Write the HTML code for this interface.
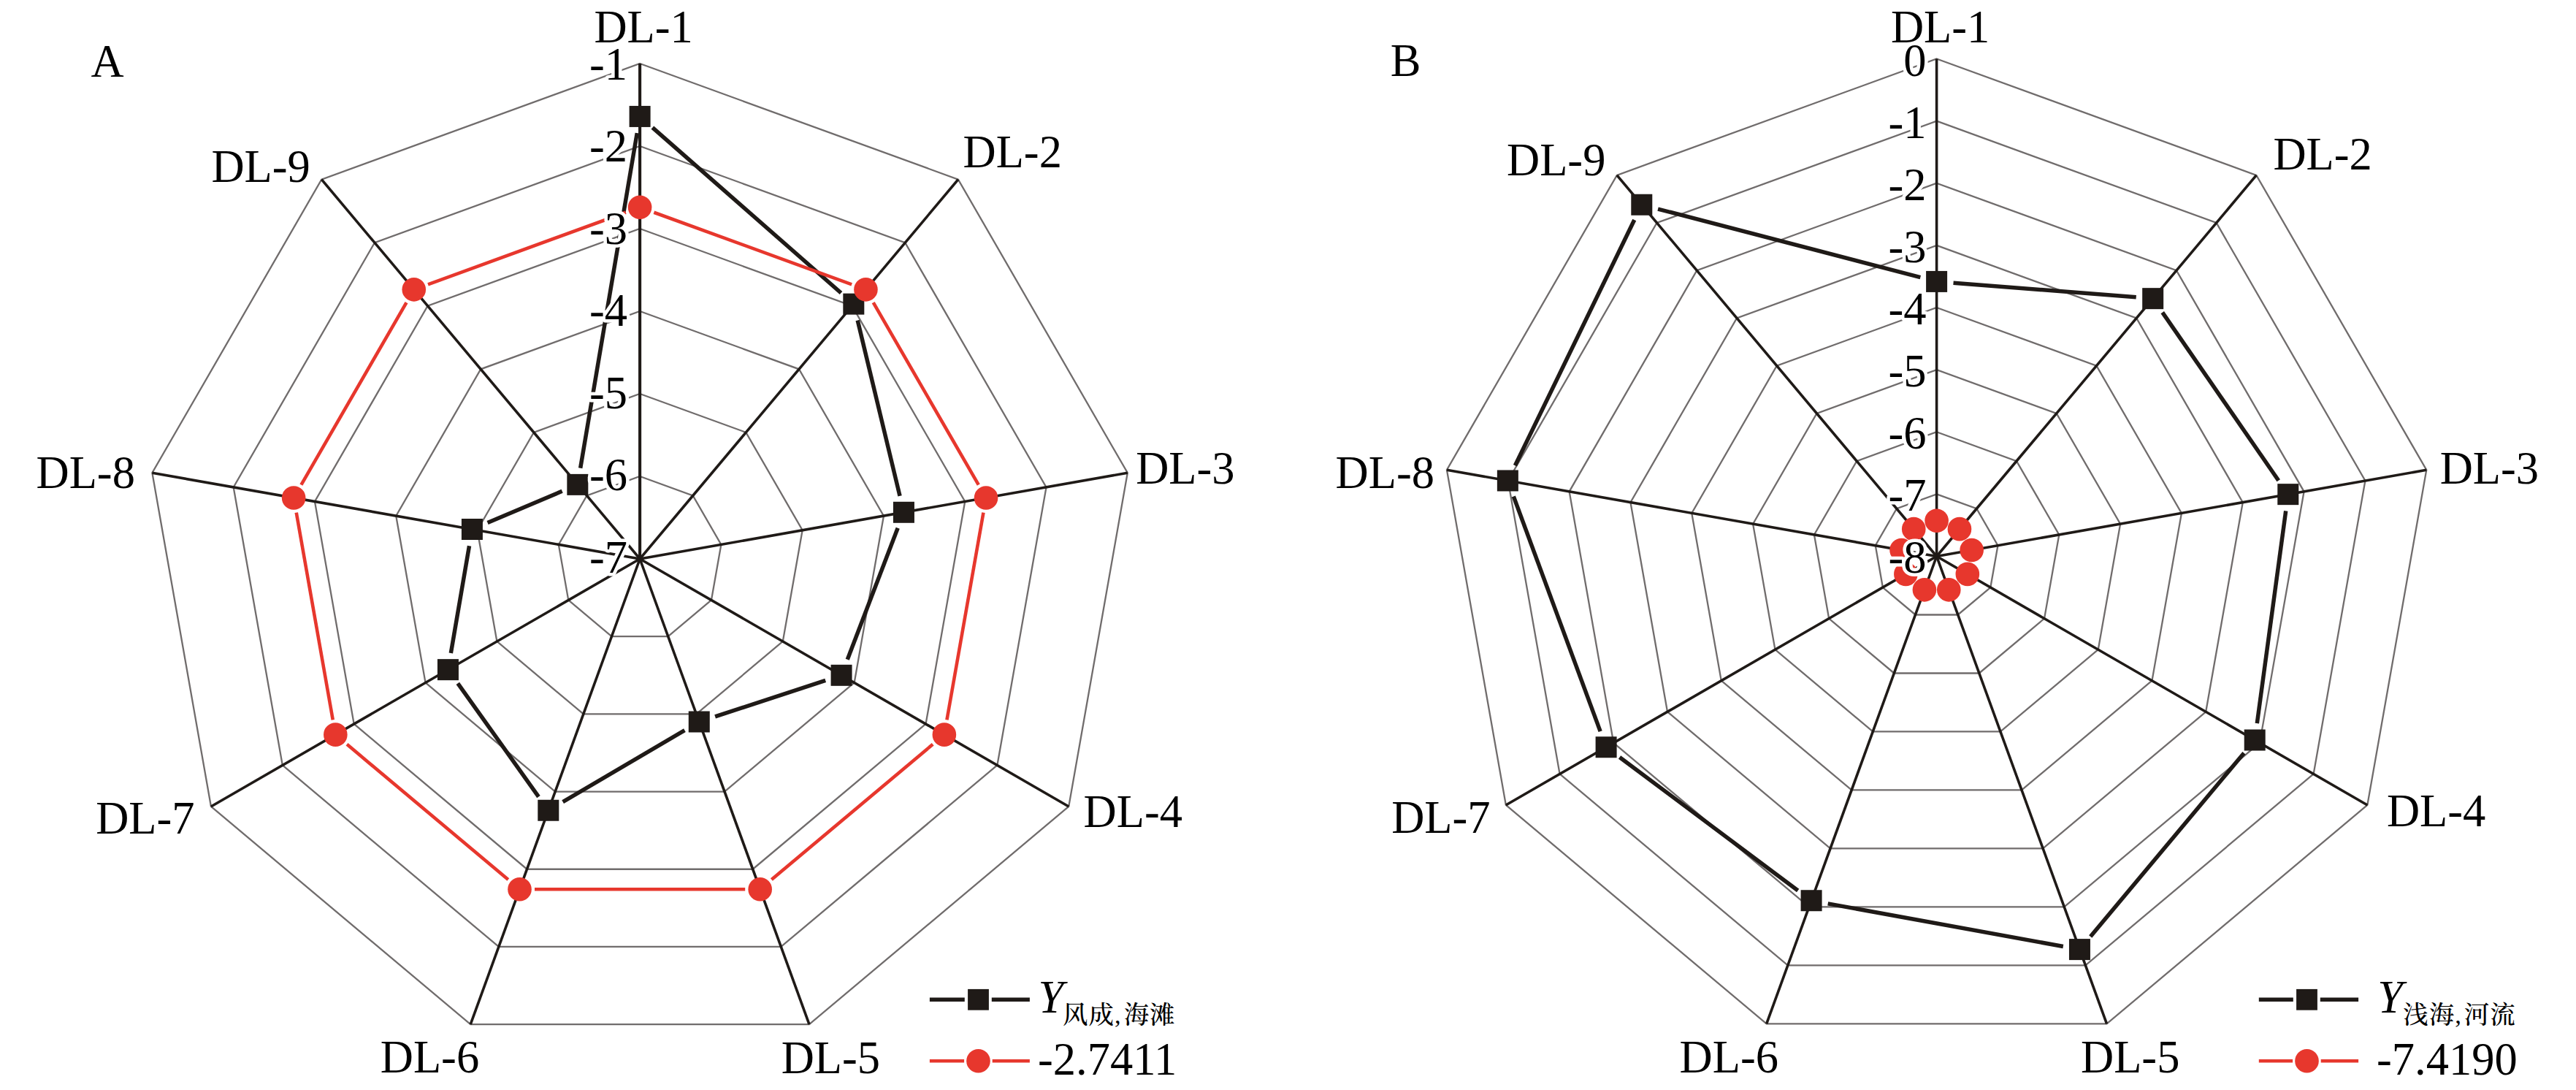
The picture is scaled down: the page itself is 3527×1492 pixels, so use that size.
<!DOCTYPE html>
<html lang="zh"><head><meta charset="utf-8"><title>Radar charts</title>
<style>html,body{margin:0;padding:0;background:#fff}svg{display:block}</style></head>
<body>
<svg width="3527" height="1492" viewBox="0 0 3527 1492" font-family="'Liberation Serif', 'Noto Serif CJK SC', serif" font-size="62.5" fill="#000">
<rect width="3527" height="1492" fill="#fff"/>
<g fill="none" stroke="#706c6c" stroke-width="2.3" stroke-linejoin="miter">
<polygon points="876.1,652 948.73,678.44 987.38,745.38 973.96,821.5 914.75,871.19 837.45,871.19 778.24,821.5 764.82,745.38 803.47,678.44"/>
<polygon points="876.1,539 1021.37,591.87 1098.67,725.76 1071.82,878 953.4,977.37 798.8,977.37 680.38,878 653.53,725.76 730.83,591.87"/>
<polygon points="876.1,426 1094,505.31 1209.95,706.13 1169.68,934.5 992.04,1083.56 760.16,1083.56 582.52,934.5 542.25,706.13 658.2,505.31"/>
<polygon points="876.1,313 1166.64,418.75 1321.23,686.51 1267.54,991 1030.69,1189.74 721.51,1189.74 484.66,991 430.97,686.51 585.56,418.75"/>
<polygon points="876.1,200 1239.27,332.18 1432.52,666.89 1365.4,1047.5 1069.34,1295.93 682.86,1295.93 386.8,1047.5 319.68,666.89 512.93,332.18"/>
<polygon points="876.1,87 1311.91,245.62 1543.8,647.27 1463.27,1104 1107.99,1402.11 644.21,1402.11 288.93,1104 208.4,647.27 440.29,245.62"/>
</g>
<g stroke="#1f1a17" stroke-width="3.6">
<line x1="876.1" y1="765" x2="876.1" y2="87" stroke-width="4.1"/>
<line x1="876.1" y1="765" x2="1311.91" y2="245.62"/>
<line x1="876.1" y1="765" x2="1543.8" y2="647.27"/>
<line x1="876.1" y1="765" x2="1463.27" y2="1104"/>
<line x1="876.1" y1="765" x2="1107.99" y2="1402.11"/>
<line x1="876.1" y1="765" x2="644.21" y2="1402.11"/>
<line x1="876.1" y1="765" x2="288.93" y2="1104"/>
<line x1="876.1" y1="765" x2="208.4" y2="647.27"/>
<line x1="876.1" y1="765" x2="440.29" y2="245.62"/>
</g>
<line x1="893.39" y1="174.6" x2="1151.53" y2="400.99" stroke="#1f1a17" stroke-width="5.5"/>
<line x1="1174.2" y1="438.51" x2="1232.06" y2="678.92" stroke="#1f1a17" stroke-width="5.5"/>
<line x1="1229.22" y1="722.77" x2="1160.29" y2="902.85" stroke="#1f1a17" stroke-width="5.5"/>
<line x1="1130.21" y1="931.47" x2="979.12" y2="980.84" stroke="#1f1a17" stroke-width="5.5"/>
<line x1="937.43" y1="999.64" x2="770.63" y2="1097.6" stroke="#1f1a17" stroke-width="5.5"/>
<line x1="737.45" y1="1090.53" x2="626.8" y2="935.37" stroke="#1f1a17" stroke-width="5.5"/>
<line x1="617.33" y1="893.98" x2="642.52" y2="747.17" stroke="#1f1a17" stroke-width="5.5"/>
<line x1="667.59" y1="715.53" x2="769.65" y2="672.34" stroke="#1f1a17" stroke-width="5.5"/>
<line x1="794.66" y1="640.7" x2="872.26" y2="182.11" stroke="#1f1a17" stroke-width="5.5"/>
<rect x="861.6" y="144.93" width="29" height="29" fill="#1f1a17"/>
<rect x="1154.32" y="401.65" width="29" height="29" fill="#1f1a17"/>
<rect x="1222.94" y="686.79" width="29" height="29" fill="#1f1a17"/>
<rect x="1137.57" y="909.83" width="29" height="29" fill="#1f1a17"/>
<rect x="942.76" y="973.49" width="29" height="29" fill="#1f1a17"/>
<rect x="736.3" y="1094.75" width="29" height="29" fill="#1f1a17"/>
<rect x="598.94" y="902.15" width="29" height="29" fill="#1f1a17"/>
<rect x="631.91" y="710" width="29" height="29" fill="#1f1a17"/>
<rect x="776.33" y="648.88" width="29" height="29" fill="#1f1a17"/>
<line x1="895.36" y1="290.76" x2="1166.18" y2="389.33" stroke="#e7372d" stroke-width="4.6"/>
<line x1="1195.7" y1="414.09" x2="1339.79" y2="663.68" stroke="#e7372d" stroke-width="4.6"/>
<line x1="1346.48" y1="701.62" x2="1296.44" y2="985.44" stroke="#e7372d" stroke-width="4.6"/>
<line x1="1277.18" y1="1018.8" x2="1056.4" y2="1204.06" stroke="#e7372d" stroke-width="4.6"/>
<line x1="1020.2" y1="1217.23" x2="732" y2="1217.23" stroke="#e7372d" stroke-width="4.6"/>
<line x1="695.8" y1="1204.06" x2="475.02" y2="1018.8" stroke="#e7372d" stroke-width="4.6"/>
<line x1="455.76" y1="985.44" x2="405.72" y2="701.62" stroke="#e7372d" stroke-width="4.6"/>
<line x1="412.41" y1="663.68" x2="556.5" y2="414.09" stroke="#e7372d" stroke-width="4.6"/>
<line x1="586.02" y1="389.33" x2="856.84" y2="290.76" stroke="#e7372d" stroke-width="4.6"/>
<circle cx="876.1" cy="283.74" r="16.3" fill="#e7372d"/>
<circle cx="1185.45" cy="396.34" r="16.3" fill="#e7372d"/>
<circle cx="1350.04" cy="681.43" r="16.3" fill="#e7372d"/>
<circle cx="1292.88" cy="1005.63" r="16.3" fill="#e7372d"/>
<circle cx="1040.7" cy="1217.23" r="16.3" fill="#e7372d"/>
<circle cx="711.5" cy="1217.23" r="16.3" fill="#e7372d"/>
<circle cx="459.32" cy="1005.63" r="16.3" fill="#e7372d"/>
<circle cx="402.16" cy="681.43" r="16.3" fill="#e7372d"/>
<circle cx="566.75" cy="396.34" r="16.3" fill="#e7372d"/>
<g text-anchor="end" stroke="#fff" stroke-width="9" stroke-linejoin="round" paint-order="stroke" style="paint-order:stroke">
<text x="859" y="108.7">-1</text>
<text x="859" y="221.2">-2</text>
<text x="859" y="333.7">-3</text>
<text x="859" y="446.2">-4</text>
<text x="859" y="558.7">-5</text>
<text x="859" y="671.2">-6</text>
<text x="859" y="783.7">-7</text>
</g>
<g fill="none" stroke="#706c6c" stroke-width="2.3" stroke-linejoin="miter">
<polygon points="2651.6,676.38 2706.32,696.29 2735.43,746.72 2725.32,804.06 2680.71,841.49 2622.49,841.49 2577.88,804.06 2567.77,746.72 2596.88,696.29"/>
<polygon points="2651.6,591.25 2761.03,631.08 2819.26,731.94 2799.04,846.62 2709.83,921.48 2593.37,921.48 2504.16,846.63 2483.94,731.94 2542.17,631.08"/>
<polygon points="2651.6,506.12 2815.75,565.87 2903.1,717.15 2872.76,889.19 2738.94,1001.47 2564.26,1001.47 2430.44,889.19 2400.1,717.15 2487.45,565.87"/>
<polygon points="2651.6,421 2870.47,500.66 2986.93,702.37 2946.48,931.75 2768.06,1081.47 2535.14,1081.47 2356.72,931.75 2316.27,702.37 2432.73,500.66"/>
<polygon points="2651.6,335.88 2925.19,435.45 3070.76,687.59 3020.2,974.31 2797.17,1161.46 2506.03,1161.46 2283,974.31 2232.44,687.59 2378.01,435.45"/>
<polygon points="2651.6,250.75 2979.9,370.24 3154.59,672.81 3093.92,1016.87 2826.29,1241.45 2476.91,1241.45 2209.28,1016.88 2148.61,672.81 2323.3,370.24"/>
<polygon points="2651.6,165.62 3034.62,305.03 3238.42,658.03 3167.64,1059.44 2855.4,1321.44 2447.8,1321.44 2135.56,1059.44 2064.78,658.03 2268.58,305.03"/>
<polygon points="2651.6,80.5 3089.34,239.82 3322.25,643.25 3241.36,1102 2884.52,1401.43 2418.68,1401.43 2061.84,1102 1980.95,643.25 2213.86,239.82"/>
</g>
<g stroke="#1f1a17" stroke-width="3.6">
<line x1="2651.6" y1="761.5" x2="2651.6" y2="80.5"/>
<line x1="2651.6" y1="761.5" x2="3089.34" y2="239.82"/>
<line x1="2651.6" y1="761.5" x2="3322.25" y2="643.25"/>
<line x1="2651.6" y1="761.5" x2="3241.36" y2="1102"/>
<line x1="2651.6" y1="761.5" x2="2884.52" y2="1401.43"/>
<line x1="2651.6" y1="761.5" x2="2418.68" y2="1401.43"/>
<line x1="2651.6" y1="761.5" x2="2061.84" y2="1102"/>
<line x1="2651.6" y1="761.5" x2="1980.95" y2="643.25"/>
<line x1="2651.6" y1="761.5" x2="2213.86" y2="239.82"/>
</g>
<line x1="2674.53" y1="387.22" x2="2924.75" y2="406.85" stroke="#1f1a17" stroke-width="5.5"/>
<line x1="2960.75" y1="427.58" x2="3119.72" y2="657.73" stroke="#1f1a17" stroke-width="5.5"/>
<line x1="3129.71" y1="699.44" x2="3090.3" y2="990.21" stroke="#1f1a17" stroke-width="5.5"/>
<line x1="3072.46" y1="1030.64" x2="2862.21" y2="1281.96" stroke="#1f1a17" stroke-width="5.5"/>
<line x1="2824.82" y1="1295.48" x2="2502.71" y2="1236.85" stroke="#1f1a17" stroke-width="5.5"/>
<line x1="2461.66" y1="1218.96" x2="2217.53" y2="1036.52" stroke="#1f1a17" stroke-width="5.5"/>
<line x1="2191.13" y1="1001.17" x2="2072.33" y2="679.53" stroke="#1f1a17" stroke-width="5.5"/>
<line x1="2074.41" y1="637.26" x2="2237.74" y2="300.94" stroke="#1f1a17" stroke-width="5.5"/>
<line x1="2270.04" y1="286.05" x2="2629.34" y2="379.62" stroke="#1f1a17" stroke-width="5.5"/>
<rect x="2637.1" y="370.92" width="29" height="29" fill="#1f1a17"/>
<rect x="2933.18" y="394.15" width="29" height="29" fill="#1f1a17"/>
<rect x="3118.29" y="662.15" width="29" height="29" fill="#1f1a17"/>
<rect x="3072.71" y="998.5" width="29" height="29" fill="#1f1a17"/>
<rect x="2832.95" y="1285.1" width="29" height="29" fill="#1f1a17"/>
<rect x="2465.59" y="1218.23" width="29" height="29" fill="#1f1a17"/>
<rect x="2184.6" y="1008.25" width="29" height="29" fill="#1f1a17"/>
<rect x="2049.86" y="643.45" width="29" height="29" fill="#1f1a17"/>
<rect x="2233.29" y="265.75" width="29" height="29" fill="#1f1a17"/>
<circle cx="2651.6" cy="712.72" r="16.3" fill="#e7372d"/>
<circle cx="2682.95" cy="724.13" r="16.3" fill="#e7372d"/>
<circle cx="2699.64" cy="753.03" r="16.3" fill="#e7372d"/>
<circle cx="2693.84" cy="785.89" r="16.3" fill="#e7372d"/>
<circle cx="2668.28" cy="807.34" r="16.3" fill="#e7372d"/>
<circle cx="2634.92" cy="807.34" r="16.3" fill="#e7372d"/>
<circle cx="2609.36" cy="785.89" r="16.3" fill="#e7372d"/>
<circle cx="2603.56" cy="753.03" r="16.3" fill="#e7372d"/>
<circle cx="2620.25" cy="724.13" r="16.3" fill="#e7372d"/>
<g text-anchor="end" stroke="#fff" stroke-width="9" stroke-linejoin="round" paint-order="stroke" style="paint-order:stroke">
<text x="2637.5" y="103.9">0</text>
<text x="2637.5" y="188.9">-1</text>
<text x="2637.5" y="273.9">-2</text>
<text x="2637.5" y="358.9">-3</text>
<text x="2637.5" y="443.9">-4</text>
<text x="2637.5" y="528.9">-5</text>
<text x="2637.5" y="613.9">-6</text>
<text x="2637.5" y="698.9">-7</text>
<text x="2637.5" y="783.9">-8</text>
</g>
<text x="124.4" y="104.6">A</text>
<text x="813.4" y="58">DL-1</text>
<text x="1318.5" y="229.1">DL-2</text>
<text x="1555.2" y="662">DL-3</text>
<text x="1483.6" y="1132.1">DL-4</text>
<text x="1069.7" y="1469.2">DL-5</text>
<text x="520.8" y="1468.3">DL-6</text>
<text x="131.2" y="1140.5">DL-7</text>
<text x="49.5" y="667.6">DL-8</text>
<text x="289.4" y="248.7">DL-9</text>
<text x="1903.7" y="104.4">B</text>
<text x="2588.9" y="58">DL-1</text>
<text x="3112.4" y="232.1">DL-2</text>
<text x="3340.7" y="661.5">DL-3</text>
<text x="3267.9" y="1131.3">DL-4</text>
<text x="2849" y="1468.3">DL-5</text>
<text x="2299.6" y="1468.3">DL-6</text>
<text x="1905.2" y="1140.1">DL-7</text>
<text x="1828.6" y="667.6">DL-8</text>
<text x="2063" y="240">DL-9</text>
<line x1="1272.9" y1="1368.3" x2="1320.8" y2="1368.3" stroke="#1f1a17" stroke-width="5.5"/>
<line x1="1357.8" y1="1368.3" x2="1409.9" y2="1368.3" stroke="#1f1a17" stroke-width="5.5"/>
<rect x="1325.1" y="1353.9" width="28.8" height="28.8" fill="#1f1a17"/>
<line x1="1272.9" y1="1452.2" x2="1320.1" y2="1452.2" stroke="#e7372d" stroke-width="4.6"/>
<line x1="1358.7" y1="1452.2" x2="1409.9" y2="1452.2" stroke="#e7372d" stroke-width="4.6"/>
<circle cx="1339.5" cy="1452.2" r="16.3" fill="#e7372d"/>
<text x="1421.5" y="1385.5" font-style="italic">Y</text>
<text x="1455" y="1400.8" font-size="34.5" font-weight="500" letter-spacing="1">风成,<tspan dx="3">海滩</tspan></text>
<text x="1421" y="1470.7">-2.7411</text>
<line x1="3092.8" y1="1368.3" x2="3139.8" y2="1368.3" stroke="#1f1a17" stroke-width="5.5"/>
<line x1="3176.8" y1="1368.3" x2="3229.1" y2="1368.3" stroke="#1f1a17" stroke-width="5.5"/>
<rect x="3144.1" y="1353.9" width="28.8" height="28.8" fill="#1f1a17"/>
<line x1="3092.8" y1="1452.2" x2="3139.1" y2="1452.2" stroke="#e7372d" stroke-width="4.6"/>
<line x1="3177.7" y1="1452.2" x2="3229.1" y2="1452.2" stroke="#e7372d" stroke-width="4.6"/>
<circle cx="3158.5" cy="1452.2" r="16.3" fill="#e7372d"/>
<text x="3255.2" y="1385.5" font-style="italic">Y</text>
<text x="3290.2" y="1400.8" font-size="34.5" font-weight="500" letter-spacing="1">浅海,<tspan dx="3">河流</tspan></text>
<text x="3254" y="1470.7">-7.4190</text>
</svg>
</body></html>
